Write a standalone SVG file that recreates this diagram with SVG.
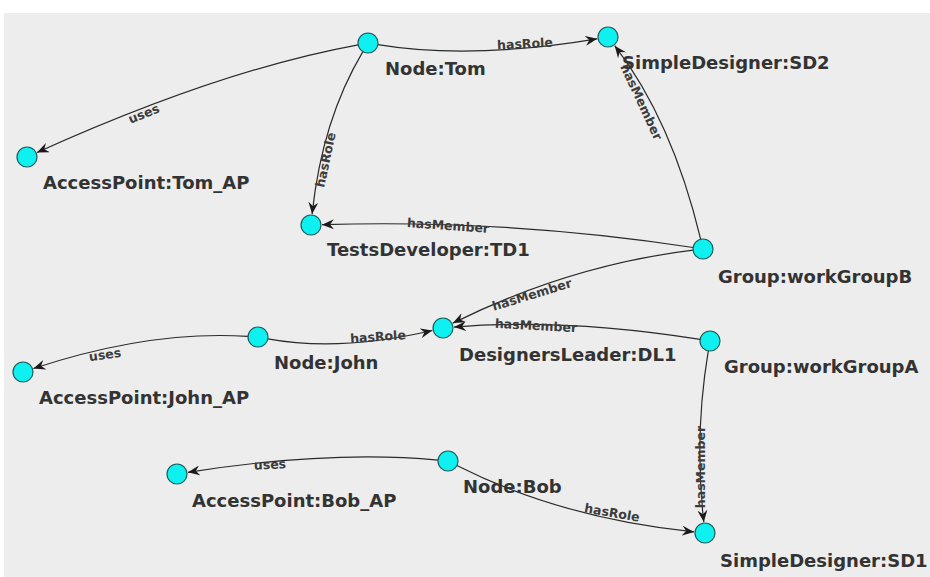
<svg xmlns="http://www.w3.org/2000/svg" width="930" height="577" viewBox="0 0 930 577">
<style>
.node circle{fill:#0ff0f0;stroke:#1d5c5c;stroke-width:1.2}
.node text{font-family:"DejaVu Sans",sans-serif;font-weight:bold;font-size:18px;fill:#333}
.edge{fill:none;stroke:#2a2a2a;stroke-width:1.2;marker-end:url(#arr)}
.el{font-family:"DejaVu Sans",sans-serif;font-weight:bold;font-size:12.5px;fill:#3c3c3c;text-anchor:middle}
</style>
<defs>
<marker id="arr" markerUnits="userSpaceOnUse" viewBox="0 0 12 10" markerWidth="12" markerHeight="10" refX="12" refY="5" orient="auto">
<path d="M0,0 L12,5 L0,10 L4,5 z" fill="#1a1a1a"/>
</marker>
</defs>
<rect x="0" y="0" width="930" height="577" fill="#ffffff"/>
<rect x="4" y="13" width="926" height="564" fill="#ededed"/>
<g id="connectors">
<path class="edge" d="M377.9,44.6 Q470,60 597.2,38.8"/>
<path class="edge" d="M358.2,44.8 Q220,70 37,152.5"/>
<path class="edge" d="M362.9,51.6 Q322,120 312.1,214.1"/>
<path class="edge" d="M700.7,239.3 Q672,120 614.7,45.7"/>
<path class="edge" d="M693.1,247.5 Q507,219 322,224.7"/>
<path class="edge" d="M693.1,250.2 Q570,265 452.9,323.1"/>
<path class="edge" d="M700.1,339.4 Q565,318 454,327.1"/>
<path class="edge" d="M267.8,338.8 Q340,352 432.3,330.5"/>
<path class="edge" d="M248,336.4 Q150,330 33.4,368.5"/>
<path class="edge" d="M708.3,350.9 Q694,436 703.8,522.1"/>
<path class="edge" d="M438,460.1 Q330,450 187.9,472.3"/>
<path class="edge" d="M456.9,465.5 Q560,518 694.1,531.9"/>
<text class="el" x="525" y="48" transform="rotate(-3 525 44)">hasRole</text>
<text class="el" x="144" y="118" transform="rotate(-22 144 114)">uses</text>
<text class="el" x="326" y="164" transform="rotate(-78 326 160)">hasRole</text>
<text class="el" x="641" y="106" transform="rotate(65 641 102)">hasMember</text>
<text class="el" x="448" y="230" transform="rotate(4 448 226)">hasMember</text>
<text class="el" x="532" y="299" transform="rotate(-17 532 295)">hasMember</text>
<text class="el" x="536" y="330" transform="rotate(3 536 326)">hasMember</text>
<text class="el" x="378" y="341" transform="rotate(-4 378 337)">hasRole</text>
<text class="el" x="105" y="359" transform="rotate(-8 105 355)">uses</text>
<text class="el" x="701" y="471" transform="rotate(-90 701 467)">hasMember</text>
<text class="el" x="270" y="469" transform="rotate(-3 270 465)">uses</text>
<text class="el" x="612" y="517" transform="rotate(10 612 513)">hasRole</text>
</g>
<g id="n-tom" class="node"><circle cx="368" cy="43" r="10"/><text x="385" y="75">Node:Tom</text></g>
<g id="n-sd2" class="node"><circle cx="608" cy="37" r="10"/><text x="622" y="69">SimpleDesigner:SD2</text></g>
<g id="n-tomap" class="node"><circle cx="27" cy="157" r="10"/><text x="43" y="189">AccessPoint:Tom_AP</text></g>
<g id="n-td1" class="node"><circle cx="311" cy="225" r="10"/><text x="327" y="256">TestsDeveloper:TD1</text></g>
<g id="n-wgb" class="node"><circle cx="703" cy="249" r="10"/><text x="718" y="283">Group:workGroupB</text></g>
<g id="n-dl1" class="node"><circle cx="443" cy="328" r="10"/><text x="459" y="361">DesignersLeader:DL1</text></g>
<g id="n-wga" class="node"><circle cx="710" cy="341" r="10"/><text x="724" y="373">Group:workGroupA</text></g>
<g id="n-john" class="node"><circle cx="258" cy="337" r="10"/><text x="274" y="369">Node:John</text></g>
<g id="n-johnap" class="node"><circle cx="23" cy="372" r="10"/><text x="39" y="404">AccessPoint:John_AP</text></g>
<g id="n-bobap" class="node"><circle cx="177" cy="474" r="10"/><text x="192" y="507">AccessPoint:Bob_AP</text></g>
<g id="n-bob" class="node"><circle cx="448" cy="461" r="10"/><text x="463" y="493">Node:Bob</text></g>
<g id="n-sd1" class="node"><circle cx="705" cy="533" r="10"/><text x="720" y="567">SimpleDesigner:SD1</text></g>
</svg>
